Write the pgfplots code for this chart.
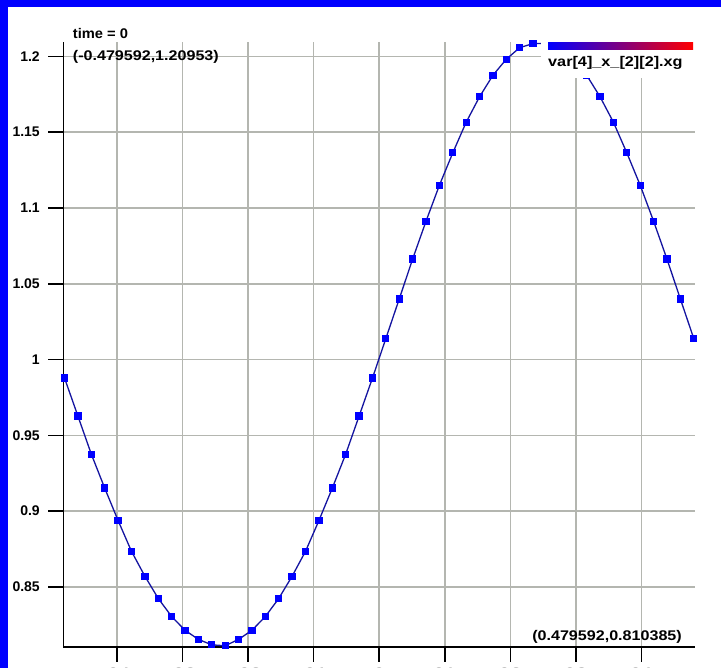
\documentclass[border=0pt]{standalone}
\usepackage{fontspec}
\setmainfont{Liberation Sans}
\usepackage{graphicx}
\usepackage{pgfplots}
\pgfplotsset{compat=1.18}
\definecolor{curvec}{RGB}{20,20,160}
\definecolor{gridc}{RGB}{180,182,176}
\newcommand{\lbl}{\fontsize{14}{14}\selectfont\bfseries}
\begin{document}
\begin{tikzpicture}[x=1pt,y=1pt]
\useasboundingbox (0,0) rectangle (721,668);
\clip (0,0) rectangle (721,668);
\fill[blue] (0,0) rectangle (721,668);
\fill[white] (8,0) rectangle (721,661);
\begin{axis}[
  at={(63.3pt,21pt)}, anchor=south west,
  scale only axis, width=631.7pt, height=605pt,
  xmin=-0.4815, xmax=0.4815, ymin=0.810385, ymax=1.20953,
  axis lines=left, axis line style={-, black, line width=1.5pt},
  xtick={-0.4,-0.3,-0.2,-0.1,0,0.1,0.2,0.3,0.4},
  xticklabels={-0.4,-0.3,-0.2,-0.1,0,0.1,0.2,0.3,0.4},
  ytick={0.85,0.9,0.95,1,1.05,1.1,1.15,1.2},
  yticklabels={0.85,0.9,0.95,1,1.05,1.1,1.15,1.2},
  grid=major, major grid style={gridc, line width=1.5pt},
  tick align=outside, major tick length=15pt,
  tick style={black, line width=1.5pt},
  tick label style={font=\lbl},
  yticklabel style={xshift=-5pt},
  xticklabel style={yshift=-2.5pt, text=gray!60},
  clip=false,
]
\addplot[curvec, line width=1.3pt, mark=square*, mark size=3pt,
  mark options={fill=blue, draw=blue, solid}] coordinates {
(-0.479592,0.9878) (-0.459184,0.9627) (-0.438776,0.9376) (-0.418367,0.9152)
(-0.397959,0.8938) (-0.377551,0.8735) (-0.357143,0.8571) (-0.336735,0.8424)
(-0.316327,0.8305) (-0.295918,0.8214) (-0.275510,0.8154) (-0.255102,0.8118)
(-0.234694,0.8112) (-0.214286,0.8154) (-0.193878,0.8214) (-0.173469,0.8305)
(-0.153061,0.8424) (-0.132653,0.8571) (-0.112245,0.8735) (-0.091837,0.8938)
(-0.071429,0.9152) (-0.051020,0.9376) (-0.030612,0.9627) (-0.010204,0.9878)
(0.010204,1.0139) (0.030612,1.0400) (0.051020,1.0663) (0.071429,1.0913)
(0.091837,1.1150) (0.112245,1.1364) (0.132653,1.1566) (0.153061,1.1734)
(0.173469,1.1876) (0.193878,1.1982) (0.214286,1.2058) (0.234694,1.2085)
(0.255102,1.2085) (0.275510,1.2058) (0.295918,1.1982) (0.316327,1.1876)
(0.336735,1.1734) (0.357143,1.1566) (0.377551,1.1364) (0.397959,1.1150)
(0.418367,1.0913) (0.438776,1.0663) (0.459184,1.0400) (0.479592,1.0139)
};
\end{axis}
\fill[white] (541,590) rectangle (697,631);
\shade[left color=blue, right color=red] (548,618) rectangle (693,625);
\node[anchor=west, inner sep=0pt, font=\lbl] at (548,605) {\scalebox{1.16}[1]{var[4]\_x\_[2][2].xg}};
\node[anchor=west, inner sep=0pt, font=\lbl] at (72.7,634) {\scalebox{1.05}[1]{time = 0}};
\node[anchor=west, inner sep=0pt, font=\lbl] at (72.7,611) {\scalebox{1.15}[1]{(-0.479592,1.20953)}};
\node[anchor=east, inner sep=0pt, font=\lbl] at (682,31) {\scalebox{1.15}[1]{(0.479592,0.810385)}};
\end{tikzpicture}
\end{document}
